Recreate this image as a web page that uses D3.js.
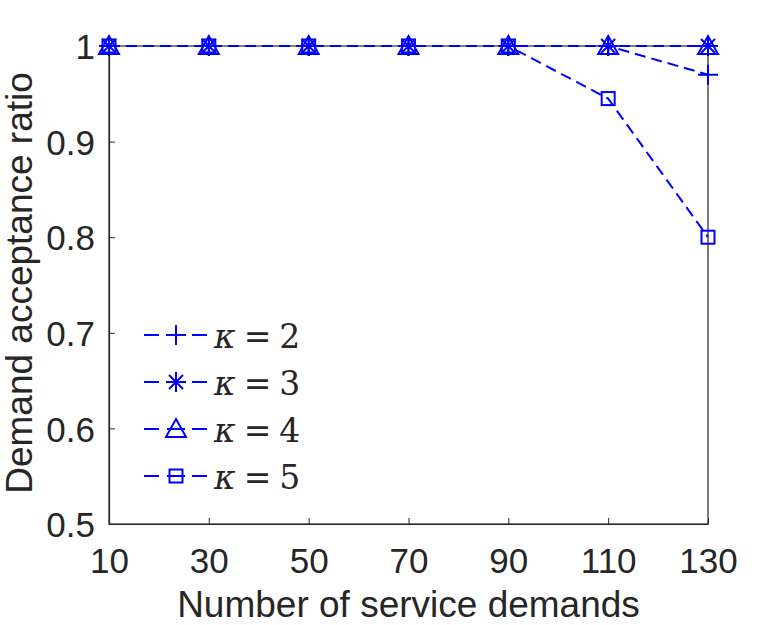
<!DOCTYPE html>
<html>
<head>
<meta charset="utf-8">
<script src="https://cdn.jsdelivr.net/npm/d3@7"></script>
<style>
  body { margin: 0; background: #fff; }
  text { font-family: "Liberation Sans", Arial, sans-serif; fill: #262626; }
</style>
</head>
<body>
<div id="chart"></div>
<script>
const demands = [10, 30, 50, 70, 90, 110, 130];
const kappa2 = [1, 1, 1, 1, 1, 1, 0.97];
const kappa3 = [1, 1, 1, 1, 1, 1, 1];
const kappa4 = [1, 1, 1, 1, 1, 1, 1];
const kappa5 = [1, 1, 1, 1, 1, 0.945, 0.8];
const yTicks = [0.5, 0.6, 0.7, 0.8, 0.9, 1];
const seriesNames = ['2', '3', '4', '5'];
const seriesMarkers = ['plus', 'star', 'triangle', 'square'];

const series = [kappa2, kappa3, kappa4, kappa5].map((vals, i) => ({
  name: seriesNames[i],
  marker: seriesMarkers[i],
  points: vals.map((v, j) => ({x: demands[j], y: v}))
}));

const W = 782, H = 625;
const margin = {top: 46, right: 74, bottom: 101, left: 109};
const width = W - margin.left - margin.right;
const height = H - margin.top - margin.bottom;
const blue = '#0000ff';
const axisColor = '#262626';
const tickFont = 35;
const labelFont = 37;

const svg = d3.select('#chart').append('svg')
    .attr('width', W).attr('height', H);

const x = d3.scaleLinear().domain([10, 130]).range([0, width]);
const y = d3.scaleLinear().domain([0.5, 1]).range([height, 0]);

const g = svg.append('g')
    .attr('transform', 'translate(' + margin.left + ',' + margin.top + ')');

// box
g.append('rect')
    .attr('width', width).attr('height', height)
    .attr('fill', 'none').attr('stroke', axisColor).attr('stroke-width', 1.2);

const xAxis = d3.axisBottom(x).tickValues(demands).tickSizeInner(-6).tickSizeOuter(0).tickPadding(24);
const yAxis = d3.axisLeft(y).tickValues(yTicks).tickSizeInner(-6).tickSizeOuter(0).tickPadding(14)
    .tickFormat(d => d === 1 ? '1' : d3.format('.1f')(d));

const gx = g.append('g')
    .attr('transform', 'translate(0,' + height + ')')
    .call(xAxis);
const gy = g.append('g').call(yAxis);

[gx, gy].forEach(a => {
  a.select('.domain').attr('stroke', axisColor).attr('stroke-width', 1.2);
  a.selectAll('.tick line').attr('stroke', axisColor).attr('stroke-width', 1);
  a.selectAll('.tick text').attr('font-size', tickFont).attr('fill', axisColor)
      .style('font-family', '"Liberation Sans", Arial, sans-serif');
});
gy.selectAll('.tick text').attr('dy', '0.36em');
gx.selectAll('.tick text').attr('dy', '0.71em');

svg.append('text')
    .attr('x', margin.left + width / 2)
    .attr('y', 617)
    .attr('text-anchor', 'middle')
    .attr('font-size', labelFont)
    .text('Number of service demands');

svg.append('text')
    .attr('transform', 'translate(32,' + 283 + ') rotate(-90)')
    .attr('text-anchor', 'middle')
    .attr('font-size', labelFont)
    .text('Demand acceptance ratio');

const line = d3.line()
    .x(d => x(d.x))
    .y(d => y(d.y));

function drawMarker(sel, type, cx, cy) {
  const s = 10;
  if (type === 'plus') {
    sel.append('path').attr('d', `M${cx - s},${cy}H${cx + s}M${cx},${cy - s}V${cy + s}`);
  } else if (type === 'star') {
    const d = s * 0.7;
    sel.append('path').attr('d',
        `M${cx - s},${cy}H${cx + s}M${cx},${cy - s}V${cy + s}` +
        `M${cx - d},${cy - d}L${cx + d},${cy + d}M${cx - d},${cy + d}L${cx + d},${cy - d}`);
  } else if (type === 'triangle') {
    sel.append('path').attr('d', `M${cx},${cy - s}L${cx + s},${cy + s * 0.8}L${cx - s},${cy + s * 0.8}Z`);
  } else if (type === 'square') {
    const q = 6.5;
    sel.append('rect').attr('x', cx - q).attr('y', cy - q).attr('width', 2 * q).attr('height', 2 * q);
  }
}

const plot = g.append('g');
series.forEach(s => {
  plot.append('path')
      .datum(s.points)
      .attr('fill', 'none')
      .attr('stroke', blue)
      .attr('stroke-width', 2)
      .attr('stroke-dasharray', '11,6')
      .attr('d', line);
});
series.forEach(s => {
  const mg = plot.append('g').attr('fill', 'none').attr('stroke', blue).attr('stroke-width', 2);
  s.points.forEach(p => drawMarker(mg, s.marker, x(p.x), y(p.y)));
});

// legend
const legend = svg.append('g');
const legendY = [335, 382, 429, 476];
series.forEach((s, i) => {
  const ly = legendY[i];
  const lg = legend.append('g').attr('fill', 'none').attr('stroke', blue).attr('stroke-width', 2);
  lg.append('line').attr('x1', 144).attr('x2', 159).attr('y1', ly).attr('y2', ly);
  lg.append('line').attr('x1', 167).attr('x2', 185).attr('y1', ly).attr('y2', ly);
  lg.append('line').attr('x1', 192).attr('x2', 207).attr('y1', ly).attr('y2', ly);
  drawMarker(lg, s.marker, 176, ly);
  const t = legend.append('text')
      .attr('x', 214).attr('y', ly + 13)
      .attr('font-size', 33)
      .style('font-family', '"DejaVu Serif", "Liberation Serif", serif')
      .attr('fill', '#000');
  t.append('tspan').attr('font-style', 'italic').text('κ');
  t.append('tspan').attr('dx', 8).text('=');
  t.append('tspan').attr('dx', 8).text(s.name);
});
</script>
</body>
</html>
